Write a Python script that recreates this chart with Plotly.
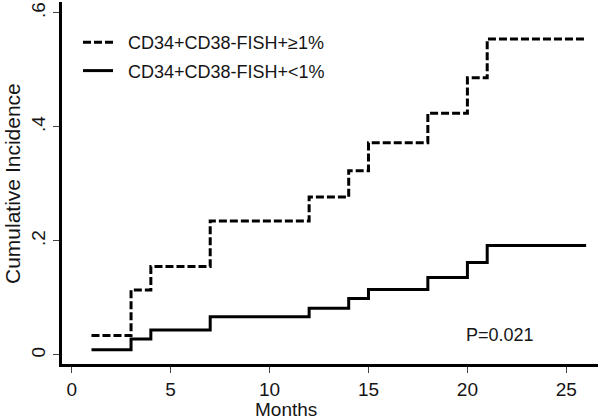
import plotly.graph_objects as go

months = [1, 3, 4, 7, 12, 14, 15, 18, 20, 21, 26]
ci_high = [0.034, 0.114, 0.155, 0.235, 0.277, 0.323, 0.372, 0.424, 0.486, 0.554, 0.554]
ci_low = [0.009, 0.028, 0.044, 0.067, 0.082, 0.099, 0.115, 0.136, 0.162, 0.192, 0.192]
x_ticks = [0, 5, 10, 15, 20, 25]
y_ticks = [0, 0.2, 0.4, 0.6]
y_tick_labels = ["0", ".2", ".4", ".6"]
names = ["CD34+CD38-FISH+≥1%", "CD34+CD38-FISH+<1%"]
p_text = "P=0.021"
x_title = "Months"
y_title = "Cumulative Incidence"

FONT = "Liberation Sans, Arial, sans-serif"
TXT = "#151515"
PAD = "\u00a0" * 2

W, H = 600, 420
l, r, t, b = 62, 2, 2, 56
pw, ph = W - l - r, H - t - b


def px(x):
    return (x - l) / pw


def py(y):
    return 1 - (y - t) / ph


fig = go.Figure()
fig.add_trace(go.Scatter(x=months, y=ci_high, mode="lines", line_shape="hv",
                         line=dict(color="black", width=3, dash="8px,3px"),
                         name=PAD + names[0], legendgroup="a"))
fig.add_trace(go.Scatter(x=months, y=ci_low, mode="lines", line_shape="hv",
                         line=dict(color="black", width=3),
                         name=PAD + names[1], legendgroup="b"))

fig.update_layout(
    width=W, height=H,
    margin=dict(l=l, r=r, t=t, b=b, autoexpand=False),
    paper_bgcolor="white", plot_bgcolor="white",
    font=dict(family=FONT, size=18, color=TXT),
    showlegend=True,
    legend=dict(x=px(78), y=py(24), xanchor="left", yanchor="top",
                bgcolor="rgba(0,0,0,0)", font=dict(size=18, family=FONT, color=TXT),
                itemwidth=30, tracegroupgap=2),
    xaxis=dict(range=[-0.49, 26.6], tickmode="array", tickvals=x_ticks,
               showline=True, linecolor="black", linewidth=3, mirror=False,
               ticks="outside", ticklen=6, tickwidth=1, tickcolor="#444",
               showgrid=False, zeroline=False, tickfont=dict(size=19),
               automargin=False),
    yaxis=dict(range=[-0.0158, 0.619], tickmode="array", tickvals=y_ticks,
               ticktext=y_tick_labels, tickangle=-90,
               showline=True, linecolor="black", linewidth=3, mirror=False,
               ticks="outside", ticklen=6, tickwidth=1, tickcolor="#444",
               showgrid=False, zeroline=False, tickfont=dict(size=19),
               automargin=False),
    annotations=[
        dict(text=x_title, x=px(286), y=py(409), xref="paper", yref="paper",
             showarrow=False, font=dict(size=19), xanchor="center", yanchor="middle"),
        dict(text=y_title, x=px(12), y=py(184), xref="paper", yref="paper",
             showarrow=False, textangle=-90, font=dict(size=21),
             xanchor="center", yanchor="middle"),
        dict(text=p_text, x=px(500), y=py(335), xref="paper", yref="paper",
             showarrow=False, font=dict(size=18), xanchor="center", yanchor="middle"),
    ],
)

fig.write_html("out.html", config={"displayModeBar": False},
               post_script="document.body.style.margin='0px';")
